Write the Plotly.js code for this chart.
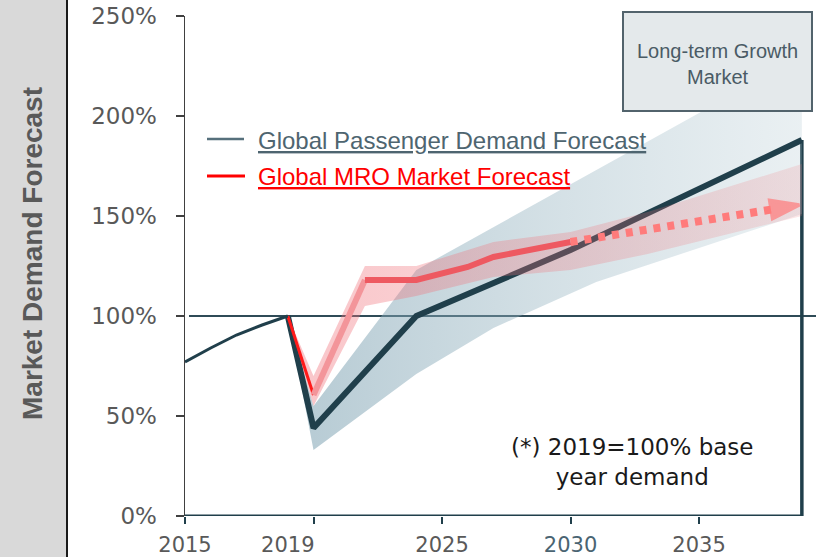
<!DOCTYPE html>
<html>
<head>
<meta charset="utf-8">
<script src="https://cdn.plot.ly/plotly-3.0.1.min.js"></script>
<style>html,body{margin:0;padding:0;background:#fff;}#chart{width:816px;height:557px;}</style>
</head>
<body>
<div id="chart"></div>
<script>
// ---- data (percent of 2019 demand) ----
const paxHistYears = [2015, 2016, 2017, 2018, 2019];
const paxHistValues = [77, 84, 90.5, 95.5, 100];

const paxYears = [2019, 2020, 2024, 2030, 2039];
const paxValues = [100, 44, 100, 133, 188];

const paxBandUpperYears = [2019, 2020, 2024, 2039];
const paxBandUpper = [100, 55, 123, 230];
const paxBandLowerYears = [2019, 2020, 2024, 2027, 2031, 2035, 2039];
const paxBandLower = [100, 33, 71, 94, 117, 134, 151];

const mroDipYears = [2019, 2020];
const mroDipValues = [100, 60.5];
const mroRecoveryYears = [2020, 2022];
const mroRecoveryValues = [60.5, 118];
const mroYears = [2022, 2024, 2026, 2027, 2030];
const mroValues = [118, 118, 124.5, 129.5, 137];
const mroForecastYears = [2030, 2038.9];
const mroForecastValues = [137, 155.5];

const mroBandYears = [2019, 2020, 2022, 2024, 2027, 2030, 2033, 2039];
const mroBandUpper = [100, 70, 125, 125, 137, 142, 152, 176];
const mroBandLower = [100, 55, 105, 110, 119.5, 123, 131, 150];

const tickYears = [2015, 2020, 2025, 2030, 2035];
const labelYears = [2015, 2019, 2025, 2030, 2035];
const labelTexts = ['2015', '2019', '2025', '<span style="color:#4a6472">2030</span>', '2035'];
const yTicks = [0, 50, 100, 150, 200, 250];
const yTickTexts = ['0%', '50%', '100%', '150%', '200%', '250%'];

const legendPax = 'Global Passenger Demand Forecast';
const legendMro = 'Global MRO Market Forecast';
const boxText = 'Long-term Growth<br>Market';
const noteText = '(*) 2019=100% base<br>year demand';
const yTitle = 'Market Demand Forecast';

// ---- geometry helpers (pixel -> paper) ----
const W = 816, H = 557, ML = 185, MR = 0, MT = 16, MB = 41;
const PW = W - ML - MR, PH = H - MT - MB;
const px = x => (x - ML) / PW;
const py = y => (H - MB - y) / PH;

const DARK = '#203f4b';
const xRange = [2015, 2039.55];

const traces = [
  {x: paxBandLowerYears, y: paxBandLower, mode: 'lines', line: {width: 0}, hoverinfo: 'skip', showlegend: false},
  {x: paxBandUpperYears, y: paxBandUpper, mode: 'lines', line: {width: 0}, fill: 'tonexty',
   fillcolor: 'rgba(130,165,180,0.4)',
   fillgradient: {type: 'horizontal', colorscale: [[0, 'rgba(120,158,175,0.55)'], [1, 'rgba(170,195,205,0.25)']]},
   hoverinfo: 'skip', showlegend: false},
  {x: paxHistYears, y: paxHistValues, xaxis: 'x2', mode: 'lines', line: {color: DARK, width: 3}, showlegend: false},
  {x: paxYears, y: paxValues, mode: 'lines', line: {color: DARK, width: 6}, showlegend: false},
  {x: mroBandYears, y: mroBandLower, mode: 'lines', line: {width: 0}, hoverinfo: 'skip', showlegend: false},
  {x: mroBandYears, y: mroBandUpper, mode: 'lines', line: {width: 0}, fill: 'tonexty',
   fillcolor: 'rgba(240,110,120,0.3)',
   fillgradient: {type: 'horizontal', colorscale: [[0, 'rgba(240,110,120,0.4)'], [1, 'rgba(240,120,125,0.18)']]},
   hoverinfo: 'skip', showlegend: false},
  {x: mroDipYears, y: mroDipValues, mode: 'lines', line: {color: '#ff1a1a', width: 3}, showlegend: false},
  {x: mroRecoveryYears, y: mroRecoveryValues, mode: 'lines', line: {color: '#f3959a', width: 6}, showlegend: false},
  {x: mroYears, y: mroValues, mode: 'lines', line: {color: '#ee5961', width: 6}, showlegend: false},
  {x: mroForecastYears, y: mroForecastValues, mode: 'lines+markers',
   line: {color: '#ff7b7b', width: 8, dash: '7px,7px'},
   marker: {symbol: 'arrow', angleref: 'previous', size: [0, 30], color: '#ff7b7b',
            line: {width: 3.5, color: '#ff7b7b'}},
   showlegend: false}
];

const lastYear = paxYears[paxYears.length - 1];
const lastVal = paxValues[paxValues.length - 1];

const shapes = [
  // grey side panel with the axis title
  {type: 'rect', xref: 'paper', yref: 'paper', x0: px(0), x1: px(67), y0: py(H), y1: py(0),
   fillcolor: '#d9d9d9', line: {width: 0}, layer: 'above'},
  {type: 'line', xref: 'paper', yref: 'paper', x0: px(67), x1: px(67), y0: py(H), y1: py(0),
   line: {color: '#1a1a1a', width: 2}, layer: 'above'},
  // 100% reference line
  {type: 'line', xref: 'paper', yref: 'y', x0: px(189), x1: 1, y0: 100, y1: 100,
   line: {color: '#2f4b57', width: 2}, layer: 'below'},
  // right frame line down from the end of the passenger line
  {type: 'line', xref: 'x', yref: 'y', x0: lastYear, x1: lastYear, y0: 0, y1: lastVal,
   line: {color: DARK, width: 3.5}, layer: 'below'},
  // bottom axis line
  {type: 'line', xref: 'x', yref: 'y', x0: xRange[0], x1: lastYear, y0: 0, y1: 0,
   line: {color: DARK, width: 3}, layer: 'above'},
  // box
  {type: 'rect', xref: 'paper', yref: 'paper', x0: px(623), x1: px(812), y0: py(111), y1: py(12),
   fillcolor: '#e4e9eb', line: {color: '#52636c', width: 2}, layer: 'above'},
  // legend keys
  {type: 'line', xref: 'paper', yref: 'paper', x0: px(207), x1: px(244), y0: py(139), y1: py(139),
   line: {color: '#56707c', width: 2.5}, layer: 'above'},
  {type: 'line', xref: 'paper', yref: 'paper', x0: px(207), x1: px(245), y0: py(176), y1: py(176),
   line: {color: '#ff0000', width: 3}, layer: 'above'}
];

const annotations = [
  {xref: 'paper', yref: 'paper', x: px(32), y: py(254), xanchor: 'center', yanchor: 'middle',
   text: '<b>' + yTitle + '</b>', textangle: -90,
   showarrow: false, font: {family: 'Liberation Sans, Arial', size: 28, color: '#595959'}},
  {xref: 'paper', yref: 'paper', x: px(717), y: py(64), xanchor: 'center', yanchor: 'middle',
   text: boxText, showarrow: false, align: 'center',
   font: {family: 'Liberation Sans, Arial', size: 20, color: '#4a5b65'}},
  {xref: 'paper', yref: 'paper', x: px(256), y: py(140), xanchor: 'left', yanchor: 'middle', showarrow: false,
   text: '<span style="text-decoration:underline">' + legendPax + '</span>',
   font: {family: 'Liberation Sans, Arial', size: 24, color: '#4e6570'}},
  {xref: 'paper', yref: 'paper', x: px(256), y: py(177), xanchor: 'left', yanchor: 'middle', showarrow: false,
   text: '<span style="text-decoration:underline">' + legendMro + '</span>',
   font: {family: 'Liberation Sans, Arial', size: 24, color: '#ff0000'}},
  {xref: 'paper', yref: 'paper', x: px(632), y: py(462), xanchor: 'center', yanchor: 'middle',
   showarrow: false, align: 'center',
   text: noteText, font: {family: 'DejaVu Sans', size: 23, color: '#1a1a1a'}}
];

const layout = {
  width: W, height: H,
  margin: {l: ML, r: MR, t: MT, b: MB, pad: 0},
  paper_bgcolor: '#ffffff', plot_bgcolor: '#ffffff',
  showlegend: false,
  xaxis: {range: xRange, tickmode: 'array', tickvals: tickYears, ticks: 'outside', ticklen: 7, tickwidth: 2,
          tickcolor: DARK, showticklabels: false, showgrid: false, zeroline: false, showline: false, fixedrange: true},
  xaxis2: {overlaying: 'x', anchor: 'y', side: 'bottom', range: xRange, tickmode: 'array',
           tickvals: labelYears, ticktext: labelTexts, ticks: '', showgrid: false, zeroline: false,
           showline: false, ticklabelstandoff: 14,
           tickfont: {family: 'DejaVu Sans', size: 21, color: '#595959'}},
  yaxis: {range: [0, 250], tickmode: 'array', tickvals: yTicks, ticktext: yTickTexts, ticks: 'outside', ticklen: 8,
          tickwidth: 1.5, tickcolor: '#404040', showline: true, linecolor: '#404040', linewidth: 1.5,
          showgrid: false, zeroline: false, ticklabelstandoff: 14,
          tickfont: {family: 'DejaVu Sans', size: 23, color: '#595959'}},
  shapes: shapes,
  annotations: annotations
};

Plotly.newPlot('chart', traces, layout, {staticPlot: true, displayModeBar: false});
</script>
</body>
</html>
